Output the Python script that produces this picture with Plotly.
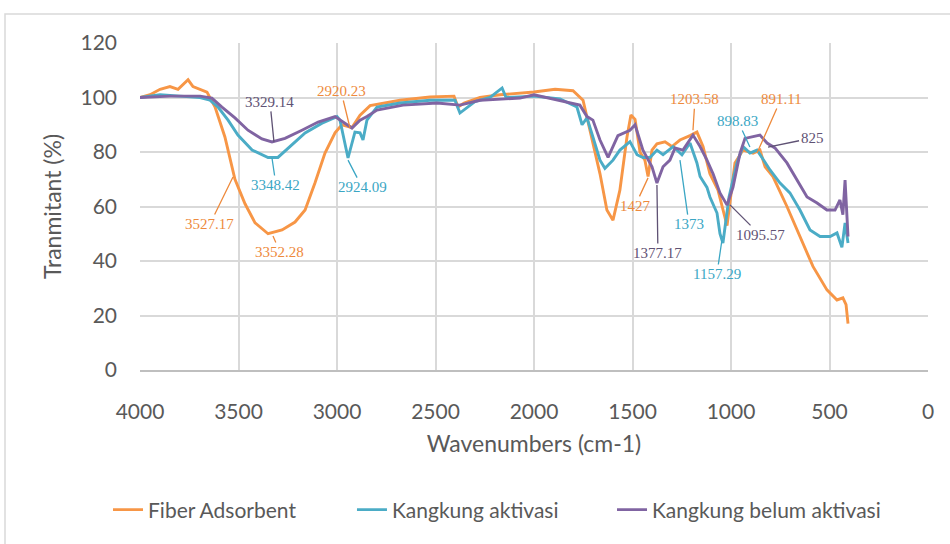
import plotly.graph_objects as go

# ---------------- data ----------------
fiber_wn = [4000, 3949, 3898, 3848, 3807, 3756, 3731, 3695, 3660, 3619, 3569, 3518, 3467, 3416,
            3350, 3279, 3213, 3162, 3112, 3061, 3010, 2975, 2924, 2883, 2832, 2680, 2528, 2406,
            2386, 2355, 2274, 2173, 2071, 2000, 1893, 1802, 1751, 1716, 1665, 1630, 1599, 1564,
            1528, 1508, 1487, 1462, 1437, 1421, 1401, 1376, 1335, 1300, 1259, 1208, 1173, 1142,
            1107, 1066, 1030, 1020, 980, 939, 888, 853, 827, 787, 716, 650, 584, 513, 462, 432,
            416, 406]
fiber_t = [100, 101, 103, 104, 103, 106.5, 104, 103, 102, 96.5, 85.5, 70, 61, 54,
           50, 51.4, 54.3, 58.7, 68.6, 79.6, 87, 90, 89, 93.5, 97, 99, 100.2, 100.5,
           96.5, 98, 100, 101, 101.5, 102, 103, 102.5, 99, 88, 72, 58.7, 55, 66,
           85.5, 93.6, 92, 80, 77, 71, 80.7, 83, 83.7, 82, 84.4, 86, 87.3, 82,
           72, 66, 55, 53, 76, 80.7, 79.6, 80.7, 74.6, 71, 60, 49, 38, 29.4, 25.7, 26.5,
           24, 17]

aktivasi_wn = [4000, 3898, 3797, 3695, 3645, 3604, 3553, 3503, 3431, 3350, 3300, 3228, 3162, 3076,
               3000, 2985, 2944, 2909, 2883, 2868, 2848, 2797, 2680, 2528, 2401, 2376, 2345, 2300,
               2223, 2162, 2142, 2000, 1868, 1782, 1756, 1731, 1701, 1665, 1640, 1599, 1564, 1513,
               1477, 1447, 1411, 1376, 1345, 1294, 1249, 1208, 1173, 1157, 1122, 1107, 1071, 1056,
               1041, 1010, 970, 939, 904, 868, 843, 802, 751, 701, 650, 599, 548, 497, 462, 437,
               421, 406]
aktivasi_t = [100, 101, 100.5, 100, 99, 96.5, 91.7, 86.2, 80.7, 78, 78, 82.6, 87, 90.6,
              93, 91.7, 77.8, 87.3, 87, 84.4, 91.7, 96.5, 98, 99, 99, 94.3, 96, 98.5,
              100, 103.5, 100, 100.5, 99.5, 96.5, 90, 92.5, 85.5, 77, 74, 77, 80.7, 83.8,
              79, 78, 78, 80.7, 79, 82, 79, 83.3, 76, 71, 67, 63.5, 57.6, 50,
              46.6, 63.5, 76, 82, 79.6, 80.7, 78, 73.4, 68.6, 65, 58.7, 51.4, 49, 49, 50.3, 45,
              54, 46.6]

belum_wn = [4000, 3848, 3695, 3635, 3584, 3518, 3452, 3381, 3330, 3264, 3178, 3096, 3010, 2985,
            2924, 2883, 2848, 2797, 2665, 2492, 2376, 2274, 2071, 2000, 1868, 1767, 1731, 1701,
            1665, 1624, 1574, 1513, 1487, 1447, 1401, 1376, 1345, 1310, 1284, 1244, 1193, 1157,
            1122, 1091, 1056, 1020, 990, 954, 929, 888, 853, 817, 777, 716, 665, 614, 563, 513,
            472, 447, 432, 421, 406]
belum_t = [100, 100.5, 100.5, 99.8, 96.5, 92.5, 88, 84.8, 83.7, 85, 88, 91, 93, 91.7,
           88.8, 91.7, 93, 95.4, 97.2, 98, 97.2, 99, 99.8, 101, 99, 97.2, 93, 91.7,
           84.4, 78, 86, 88, 90, 80.7, 74.6, 68.6, 74.6, 77, 81.5, 80.7, 86.2, 82,
           77, 72, 65, 60.5, 67, 79.6, 85, 85.5, 86.2, 83.3, 81.5, 76, 69.7, 63.5, 61.3, 58.7,
           58.7, 62.4, 57, 69.7, 49]

series_names = ["Fiber Adsorbent", "Kangkung aktivasi", "Kangkung belum aktivasi"]
series_colors = ["#F79646", "#4BACC6", "#8064A2"]

# peak labels: text, target wavenumber, target transmittance, series index
label_text = ["3329.14", "3348.42", "3527.17", "3352.28", "2920.23", "2924.09", "1203.58",
              "891.11", "898.83", "825", "1427", "1377.17", "1373", "1095.57", "1157.29"]
label_wn = [3320, 3330, 3528, 3325, 2934, 2944, 1193, 868, 904, 812, 1421, 1376, 1259, 1005, 1046]
label_t = [83.7, 77.8, 70.8, 49.2, 88.8, 77, 88, 79.6, 81.8, 81.8, 70.5, 67.9, 77, 60.6, 47.7]
label_series = [2, 1, 0, 0, 0, 1, 0, 0, 1, 2, 0, 2, 1, 2, 1]

x_ticks = [4000, 3500, 3000, 2500, 2000, 1500, 1000, 500, 0]
y_ticks = [0, 20, 40, 60, 80, 100, 120]

# ---------------- styling ----------------
label_colors = ["#EE8A3C", "#3AA6C4", "#5F5274"]
label_offsets = [(-4, -40), (4, 27), (-23, 47), (7, 16), (-9, -37), (14, 27), (2, -31),
                 (24, -54), (-12, -26), (44, -9), (-13, 28), (1, 68), (9, 64), (30, 30), (-5, 34)]
legend_ids = ["legend", "legend2", "legend3"]
legend_x = [-0.0406, 0.269, 0.599]

fig = go.Figure()
for wn, t, name, col, lid in zip([fiber_wn, aktivasi_wn, belum_wn], [fiber_t, aktivasi_t, belum_t],
                                 series_names, series_colors, legend_ids):
    fig.add_trace(go.Scatter(x=wn, y=t, mode="lines", name=name, legend=lid,
                             line=dict(color=col, width=2.9)))

for txt, wn, t, s, (ax, ay) in zip(label_text, label_wn, label_t, label_series, label_offsets):
    c = label_colors[s]
    fig.add_annotation(x=wn, y=t, xref="x", yref="y", text=txt, showarrow=True,
                       arrowhead=0, arrowwidth=1.3, arrowcolor=c, ax=ax, ay=ay,
                       font=dict(family="Liberation Serif", size=15, color=c))

grid = "#D9D9D9"
legend_style = dict(orientation="h", xanchor="left", y=-0.428, yanchor="middle",
                    font=dict(family="Lato", size=21, color="#595959"),
                    bgcolor="rgba(0,0,0,0)")
fig.update_layout(
    width=950, height=544,
    margin=dict(l=140, r=22, t=43, b=174),
    paper_bgcolor="white", plot_bgcolor="white",
    font=dict(family="Lato", color="#595959"),
    showlegend=True,
    legend=dict(x=legend_x[0], **legend_style),
    legend2=dict(x=legend_x[1], **legend_style),
    legend3=dict(x=legend_x[2], **legend_style),
    xaxis=dict(range=[4000, 0], tickvals=x_ticks, showgrid=True, gridcolor=grid, gridwidth=1.5,
               zeroline=False, showline=True, linecolor="#BFBFBF", linewidth=1.5,
               ticks="", ticklabelstandoff=22,
               tickfont=dict(family="Lato", size=21, color="#595959"),
               title=dict(text="Wavenumbers (cm-1)", standoff=14,
                          font=dict(family="Lato", size=23, color="#595959"))),
    yaxis=dict(range=[0, 120], tickvals=y_ticks, showgrid=True, gridcolor=grid, gridwidth=1.5,
               zeroline=False, showline=False,
               ticks="", ticklabelstandoff=22,
               tickfont=dict(family="Lato", size=21, color="#595959"),
               title=dict(text="Tranmitant (%)", standoff=12,
                          font=dict(family="Lato", size=23, color="#595959"))),
)

# outer chart border (cropped on the right and bottom in the reference)
fig.add_shape(type="rect", xref="paper", yref="paper",
              x0=-135 / 788, x1=1.06, y0=-0.6, y1=356 / 327,
              line=dict(color="#D9D9D9", width=1.5), layer="below")

fig.write_html("out.html")
